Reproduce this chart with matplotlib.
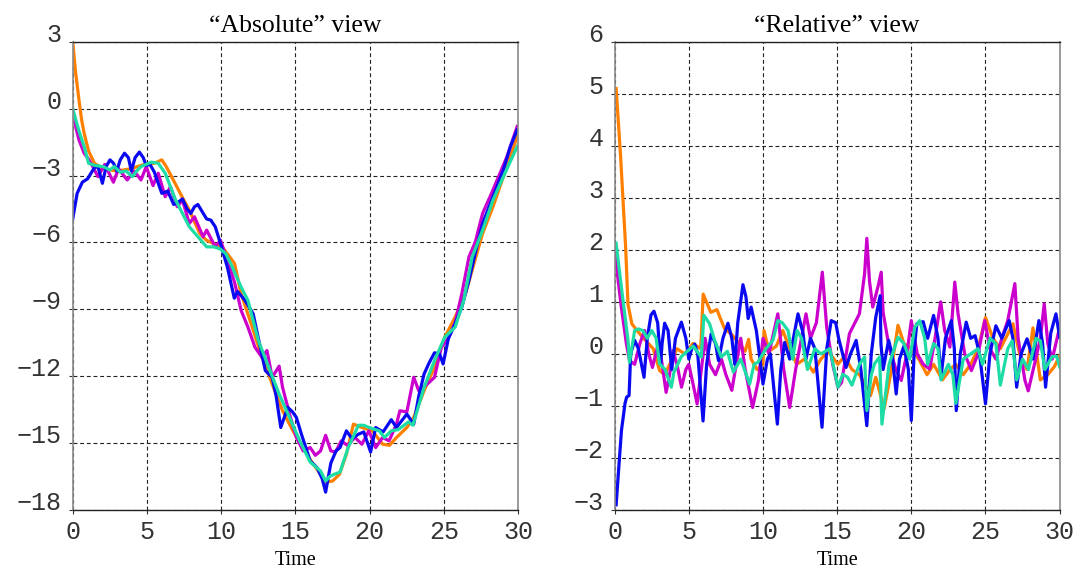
import numpy as np
import matplotlib
matplotlib.use("Agg")
import matplotlib.pyplot as plt

plt.rcParams.update({
    "figure.dpi": 100,
    "font.family": "Liberation Serif",
})

###############################################
# DATA (time, value)
###############################################

titles = ["\u201cAbsolute\u201d view", "\u201cRelative\u201d view"]
series_names = ["orange", "magenta", "blue", "green"]
colors = ["#FF8000", "#CC00CC", "#0A0AF0", "#1EDCA5"]

abs_xticks = [0, 5, 10, 15, 20, 25, 30]
abs_yticks = [-18, -15, -12, -9, -6, -3, 0, 3]
rel_yticks = [-3, -2, -1, 0, 1, 2, 3, 4, 5, 6]

abs_orange = [
    [0, 3.0], [0.2, 1.6], [0.42, 0.4], [0.6, -0.5], [0.77, -1.1], [1.07, -1.9], [1.46, -2.45],
    [2.05, -2.7], [2.97, -2.8], [3.9, -2.7], [4.83, -2.5], [5.5, -2.45], [6.0, -2.3], [6.3, -2.6],
    [6.93, -3.4], [7.4, -4.0], [7.85, -4.55], [8.55, -5.6], [9.0, -5.9], [9.48, -6.05], [10.18, -6.3],
    [10.9, -6.95], [11.34, -8.3], [12.04, -9.7], [12.74, -11.15], [13.43, -12.35], [14.13, -13.55],
    [14.83, -14.45], [15.52, -15.2], [16.1, -15.85], [16.69, -16.4], [17.03, -16.75], [17.5, -16.7],
    [17.96, -16.4], [18.43, -15.5], [18.9, -14.15], [19.47, -14.3], [20.17, -14.45], [20.87, -15.05],
    [21.33, -15.1], [21.8, -14.75], [22.5, -14.3], [22.96, -13.85], [23.66, -12.65], [24.36, -11.6],
    [25.05, -10.25], [25.75, -9.35], [26.45, -8.3], [27.0, -7.0], [27.6, -5.6], [28.3, -4.4],
    [29.0, -3.05], [29.7, -1.7], [29.95, -1.2],
]

abs_magenta = [
    [0, -0.25], [0.42, -1.4], [0.77, -2.0], [1.1, -2.3], [1.35, -2.6], [1.7, -3.05], [2.16, -2.5],
    [2.74, -3.3], [3.09, -2.7], [3.67, -3.2], [4.14, -2.8], [4.6, -3.2], [4.95, -2.6], [5.41, -3.45],
    [5.76, -2.9], [6.23, -3.95], [6.58, -3.5], [7.04, -4.4], [7.39, -4.1], [7.85, -5.15], [8.2, -4.85],
    [8.78, -5.75], [9.02, -5.45], [9.6, -6.2], [9.95, -5.9], [10.41, -6.8], [10.9, -7.8], [11.34, -9.05],
    [11.8, -9.8], [12.27, -10.7], [12.74, -11.15], [13.08, -10.85], [13.43, -12.05], [13.9, -11.55],
    [14.13, -12.5], [14.6, -13.7], [15.06, -14.75], [15.52, -15.35], [15.99, -15.2], [16.34, -15.55],
    [16.69, -15.35], [17.03, -14.65], [17.38, -15.35], [17.7, -15.4], [18.08, -14.9], [18.5, -15.1],
    [19.0, -14.75], [19.47, -15.05], [19.94, -14.45], [20.4, -15.2], [20.87, -14.75], [21.3, -14.9],
    [21.8, -14.15], [22.03, -13.55], [22.5, -13.6], [22.96, -12.05], [23.3, -12.65], [23.8, -12.4],
    [24.36, -12.05], [24.82, -10.7], [25.3, -10.3], [25.75, -9.6], [26.2, -8.3], [26.68, -6.65],
    [27.1, -6.0], [27.6, -4.7], [28.2, -3.8], [28.77, -2.9], [29.24, -2.15], [29.93, -0.8],
]

abs_blue = [
    [0, -4.95], [0.3, -3.8], [0.65, -3.3], [1.0, -3.15], [1.23, -2.9], [1.46, -2.65], [1.7, -2.6],
    [2.0, -3.35], [2.25, -2.6], [2.51, -2.3], [2.75, -2.45], [2.97, -2.8], [3.2, -2.3], [3.49, -2.0],
    [3.75, -2.2], [3.95, -2.8], [4.2, -2.2], [4.49, -1.95], [4.75, -2.2], [4.95, -2.55], [5.2, -2.5],
    [5.5, -2.85], [5.76, -3.35], [6.0, -3.8], [6.4, -3.7], [6.8, -4.3], [7.1, -4.2], [7.39, -4.05],
    [7.7, -4.5], [7.95, -4.7], [8.2, -4.4], [8.43, -4.3], [8.7, -4.6], [9.02, -4.95], [9.3, -5.0],
    [9.6, -5.3], [9.95, -6.05], [10.41, -7.1], [10.88, -8.5], [11.1, -8.2], [11.6, -8.6], [12.15, -9.2],
    [12.5, -10.3], [12.97, -11.75], [13.43, -12.05], [13.7, -12.9], [14.01, -14.3], [14.48, -13.4],
    [14.8, -13.6], [15.06, -13.85], [15.4, -14.6], [15.99, -15.8], [16.45, -16.1], [16.8, -16.6],
    [17.03, -17.2], [17.38, -15.9], [17.73, -15.35], [18.0, -15.2], [18.43, -14.45], [18.8, -14.8],
    [19.24, -14.6], [19.6, -14.5], [20.06, -15.4], [20.4, -14.3], [20.9, -14.5], [21.45, -13.95],
    [21.8, -14.3], [22.5, -13.7], [22.96, -14.15], [23.3, -12.9], [23.66, -11.9], [24.0, -11.4],
    [24.36, -10.95], [24.7, -11.0], [24.94, -11.45], [25.3, -10.3], [25.75, -9.65], [26.2, -8.9],
    [26.68, -7.7], [27.1, -6.5], [27.6, -5.15], [28.3, -3.95], [29.0, -2.75], [29.47, -1.7],
    [29.93, -0.95],
]

abs_green = [
    [0, 0.0], [0.42, -1.0], [0.77, -1.7], [1.07, -2.45], [1.5, -2.55], [2.05, -2.6], [2.5, -2.75],
    [2.8, -2.6], [3.2, -2.85], [3.6, -2.8], [4.02, -3.05], [4.3, -2.8], [4.6, -2.6], [5.3, -2.4],
    [5.76, -2.45], [6.23, -2.9], [6.93, -4.1], [7.85, -5.3], [8.5, -5.8], [9.02, -6.2], [9.5, -6.2],
    [9.95, -6.3], [10.3, -6.5], [10.64, -6.95], [11.34, -8.0], [11.8, -8.6], [12.5, -10.4],
    [13.2, -11.6], [13.9, -12.8], [14.6, -13.85], [15.29, -14.9], [15.99, -15.85], [16.69, -16.25],
    [17.03, -16.7], [17.3, -16.5], [17.61, -16.4], [18.0, -16.3], [18.55, -15.2], [19.24, -14.2],
    [19.6, -14.2], [19.94, -14.3], [20.64, -14.45], [20.99, -14.75], [21.45, -14.45], [21.9, -14.4],
    [22.61, -14.05], [22.9, -14.2], [23.66, -12.5], [24.36, -11.3], [25.05, -10.25], [25.75, -9.8],
    [26.33, -8.6], [26.9, -6.65], [27.6, -5.45], [28.3, -4.1], [29.0, -3.05], [29.93, -1.7],
]

rel_orange = [
    [0.1, 5.1], [0.39, 3.85], [0.74, 2.06], [0.9, 0.95], [1.16, 0.58], [1.5, 0.45], [2.08, 0.26],
    [2.6, 0.1], [3.03, -0.32], [3.37, -0.4], [3.8, -0.15], [4.2, 0.1], [4.72, 0.0], [5.28, 0.2],
    [5.8, 0.1], [5.97, 1.15], [6.48, 0.8], [6.9, 0.85], [7.1, 0.7], [7.42, 0.48], [7.87, 0.38],
    [8.4, 0.2], [8.8, 0.05], [9.03, 0.28], [9.2, -0.1], [9.6, -0.3], [10.0, -0.2], [10.07, 0.45],
    [10.4, 0.05], [10.9, 0.15], [11.34, 0.45], [11.8, 0.1], [12.27, -0.2], [12.8, -0.1], [13.4, -0.35],
    [13.9, -0.1], [14.4, 0.05], [15.05, -0.2], [15.5, -0.05], [16.0, -0.3], [16.5, -0.4], [16.9, -0.6],
    [17.25, -0.8], [17.6, -0.45], [18.17, -1.05], [18.6, -0.4], [19.1, 0.55], [19.5, 0.2], [20.0, 0.1],
    [20.5, -0.1], [21.06, -0.4], [21.5, -0.2], [22.1, -0.5], [22.6, -0.3], [23.0, -0.2], [23.5, -0.4],
    [24.0, -0.2], [24.5, 0.1], [25.0, 0.7], [25.5, 0.3], [26.0, 0.1], [26.85, 0.58], [27.3, 0.0],
    [27.8, -0.3], [28.2, 0.5], [28.7, -0.5], [29.2, -0.4], [29.63, -0.25], [29.98, -0.05],
]

rel_magenta = [
    [0.05, 1.95], [0.2, 1.5], [0.45, 0.9], [0.79, 0.2], [1.01, -0.13], [1.35, -0.2], [1.7, 0.2],
    [2.02, 0.45], [2.3, 0.0], [2.55, -0.26], [2.9, 0.15], [3.1, 0.0], [3.47, -0.74], [3.7, -0.4],
    [3.94, 0.06], [4.2, -0.2], [4.51, -0.64], [4.8, -0.3], [5.0, -0.2], [5.3, -0.6], [5.56, -0.96],
    [5.8, -0.4], [6.1, 0.3], [6.4, -0.2], [6.8, -0.4], [7.2, -0.1], [7.5, -0.4], [7.9, -0.7],
    [8.2, -0.2], [8.5, 0.3], [8.8, -0.3], [9.3, -1.03], [9.7, -0.5], [10.0, 0.3], [10.4, 0.0],
    [11.0, 0.77], [11.4, -0.3], [11.8, -1.03], [12.2, -0.3], [12.9, 0.77], [13.2, 0.3], [13.6, 0.6],
    [14.0, 1.57], [14.3, 0.5], [14.7, -0.2], [15.05, -0.64], [15.3, -0.55], [15.83, 0.39], [16.2, 0.6],
    [16.5, 0.77], [16.85, 1.54], [17.0, 2.22], [17.18, 1.4], [17.4, 0.9], [17.75, 1.29], [17.97, 1.57],
    [18.1, 0.8], [18.5, 0.13], [18.99, -0.32], [19.32, -0.51], [19.7, 0.0], [20.0, 0.64], [20.4, 0.0],
    [20.8, -0.2], [21.24, -0.29], [21.6, 0.3], [21.98, 1.0], [22.25, 0.45], [22.6, 0.13], [22.93, 1.38],
    [23.15, 0.77], [23.6, 0.0], [24.05, -0.32], [24.5, 0.0], [24.95, 0.64], [25.3, 0.1], [25.7, -0.1],
    [26.1, 0.3], [26.5, 0.64], [26.98, 1.35], [27.2, 0.3], [27.66, -0.51], [27.88, -0.71], [28.3, -0.2],
    [28.7, 0.3], [28.96, 0.96], [29.2, 0.2], [29.5, -0.1], [29.95, 0.45],
]

rel_blue = [
    [0.1, -2.9], [0.3, -2.1], [0.46, -1.47], [0.7, -0.95], [0.81, -0.83], [0.97, -0.8], [1.0, -0.6],
    [1.08, 0.0], [1.35, 0.26], [1.6, 0.1], [1.98, -0.45], [2.2, 0.3], [2.45, 0.75], [2.65, 0.82],
    [2.9, 0.6], [3.1, -0.2], [3.2, 0.2], [3.37, 0.59], [3.6, 0.45], [3.85, -0.3], [4.1, 0.3],
    [4.5, 0.61], [4.8, 0.3], [5.0, -0.1], [5.2, 0.1], [5.4, 0.19], [5.6, 0.0], [5.96, -1.29],
    [6.2, -0.2], [6.5, 0.38], [6.8, 0.2], [7.0, -0.13], [7.3, 0.3], [7.64, 0.59], [7.9, 0.3],
    [8.1, -0.2], [8.3, 0.6], [8.65, 1.33], [8.85, 1.1], [9.0, 0.68], [9.2, 0.9], [9.55, 0.45],
    [9.8, -0.1], [10.0, -0.58], [10.3, -0.1], [10.5, 0.0], [10.97, -1.35], [11.2, -0.3], [11.46, 0.22],
    [11.8, -0.1], [12.05, 0.3], [12.36, 0.77], [12.7, 0.4], [12.9, -0.1], [13.2, 0.3], [13.5, 0.1],
    [13.98, -1.41], [14.3, 0.1], [14.6, 0.64], [14.9, 0.6], [15.1, 0.3], [15.6, -0.26], [15.9, 0.0],
    [16.28, 0.26], [16.6, -0.3], [17.0, -1.38], [17.3, 0.0], [17.6, 0.7], [17.9, 1.12], [17.95, 0.2],
    [18.1, -0.3], [18.47, 0.26], [18.7, 0.0], [18.98, -0.77], [19.2, -0.1], [19.5, 0.15], [19.8, -0.3],
    [20.0, -1.28], [20.2, 0.1], [20.37, 0.58], [20.8, 0.62], [21.1, 0.3], [21.5, 0.74], [21.8, 0.3],
    [22.0, -0.45], [22.3, 0.3], [22.7, 0.64], [22.9, 0.1], [23.03, -1.09], [23.3, 0.0], [23.7, 0.61],
    [24.0, 0.3], [24.3, 0.35], [24.6, 0.0], [25.0, -0.96], [25.3, 0.0], [25.7, 0.54], [26.1, 0.3],
    [26.6, 0.64], [26.85, 0.3], [27.1, -0.64], [27.4, 0.0], [27.8, 0.29], [28.2, -0.1], [28.6, 0.64],
    [28.85, 0.2], [29.05, -0.64], [29.4, 0.4], [29.75, 0.77], [30.0, 0.32],
]

rel_green = [
    [0.1, 2.13], [0.45, 1.29], [0.9, 0.26], [1.0, -0.16], [1.35, 0.45], [1.6, 0.48], [1.9, 0.45],
    [2.2, 0.3], [2.5, 0.45], [2.8, 0.3], [3.03, -0.19], [3.4, -0.3], [3.82, -0.64], [4.0, -0.35],
    [4.5, -0.05], [4.94, 0.06], [5.3, 0.15], [5.84, -0.06], [6.02, 0.74], [6.4, 0.58], [6.74, 0.26],
    [7.19, -0.06], [7.6, 0.05], [8.0, -0.35], [8.5, -0.1], [9.1, -0.58], [9.4, -0.2], [9.66, -0.16],
    [10.2, 0.1], [10.67, 0.26], [11.0, 0.64], [11.3, 0.6], [11.69, 0.45], [12.0, -0.1], [12.3, 0.45],
    [12.6, 0.3], [13.0, -0.3], [13.5, 0.1], [13.9, 0.0], [14.5, 0.1], [14.82, -0.32], [15.05, -0.64],
    [15.38, -0.39], [15.7, -0.45], [16.0, -0.6], [16.5, -0.2], [16.85, -0.06], [17.0, -1.09],
    [17.3, -0.4], [17.52, -0.19], [17.86, -0.06], [18.02, -1.35], [18.5, -0.2], [19.1, 0.32],
    [19.5, 0.2], [19.89, -0.1], [20.23, 0.51], [20.56, 0.64], [20.9, 0.3], [21.1, -0.2], [21.5, 0.2],
    [21.8, 0.1], [22.0, -0.5], [22.5, -0.2], [22.8, -0.4], [23.0, -0.95], [23.5, -0.1], [24.0, 0.0],
    [24.5, 0.1], [24.8, -0.2], [25.3, 0.3], [25.7, 0.2], [26.0, -0.6], [26.5, 0.1], [26.8, 0.25],
    [27.1, -0.5], [27.5, -0.1], [27.9, -0.3], [28.4, 0.3], [28.7, 0.25], [29.0, -0.3], [29.5, -0.05],
    [29.8, -0.05], [30.0, -0.25],
]

###############################################
# FIGURE
###############################################

fig = plt.figure(figsize=(10.77, 5.69))

ax_abs = fig.add_axes([0.0675, 0.1037, 0.4137, 0.823])
ax_rel = fig.add_axes([0.5707, 0.1037, 0.4132, 0.823])

panels = [
    (ax_abs, [abs_orange, abs_magenta, abs_blue, abs_green], (-18, 3), abs_yticks),
    (ax_rel, [rel_orange, rel_magenta, rel_blue, rel_green], (-3, 6), rel_yticks),
]

for i, (ax, data, ylim, yticks) in enumerate(panels):

    for pts, c in zip(data, colors):
        arr = np.array(pts)
        ax.plot(arr[:, 0], arr[:, 1], color=c, lw=2.3, solid_joinstyle="round")

    ax.set_xlim(0, 30)
    ax.set_ylim(*ylim)
    ax.set_xticks(abs_xticks)
    ax.set_yticks(yticks)

    ax.set_axisbelow(True)
    ax.grid(True, color="#222222", linestyle=(0, (3.5, 2.5)), linewidth=0.8)

    for side in ["left", "right"]:
        ax.spines[side].set_color("#8a8a8a")
        ax.spines[side].set_linewidth(1.2)
    for side in ["top", "bottom"]:
        ax.spines[side].set_color("#222222")
        ax.spines[side].set_linewidth(1.0)

    ax.tick_params(axis="both", direction="out", length=3, width=0.8, color="#333333",
                   labelsize=18, labelcolor="#333333")
    ax.tick_params(axis="y", pad=5)
    ax.tick_params(axis="x", pad=4)

    for lbl in ax.get_xticklabels() + ax.get_yticklabels():
        lbl.set_family("Liberation Mono")
    for lbl in ax.get_yticklabels():
        lbl.set_va("baseline")

    ax.set_title(titles[i], fontsize=18.5, pad=7)
    ax.set_xlabel("Time", fontsize=14.5, labelpad=5)

plt.savefig("out.png", dpi=100)
plt.close()
